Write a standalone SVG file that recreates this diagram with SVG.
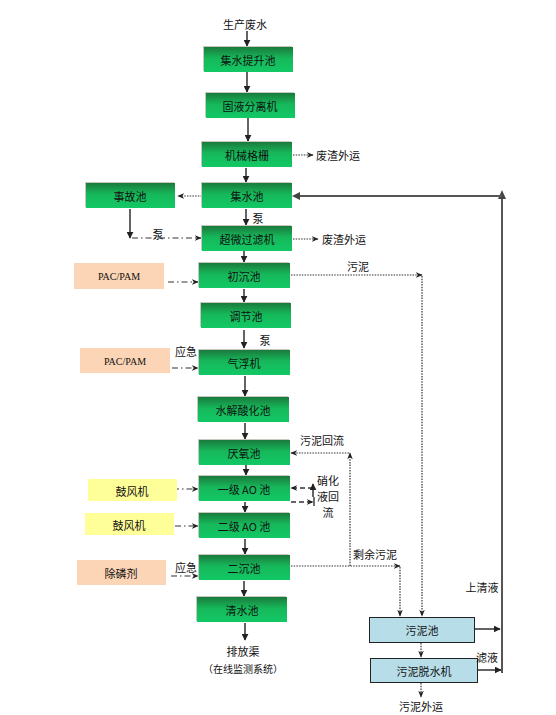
<svg xmlns="http://www.w3.org/2000/svg" width="556" height="715" viewBox="0 0 556 715">
<defs>
<linearGradient id="g" x1="0" y1="0" x2="0" y2="1">
<stop offset="0" stop-color="#1a7a3c"/>
<stop offset="0.45" stop-color="#16b85a"/>
<stop offset="1" stop-color="#12c865"/>
</linearGradient>
<marker id="a" viewBox="0 0 10 10" refX="9" refY="5" markerWidth="7" markerHeight="7" orient="auto" markerUnits="userSpaceOnUse">
<path d="M0,0 L10,5 L0,10 z" fill="#222"/>
</marker>
<marker id="d" viewBox="0 0 10 10" refX="9" refY="5" markerWidth="7" markerHeight="7" orient="auto" markerUnits="userSpaceOnUse">
<path d="M0,1 L10,5 L0,9 L3,5 z" fill="#222"/>
</marker>
</defs>
<style>
text{font-family:"Noto Sans CJK SC","Liberation Sans",sans-serif;font-size:11px;fill:#111;text-anchor:middle;dominant-baseline:central}
.en{font-family:"Liberation Serif",serif;font-size:10px}
.gb rect.s{fill:#c8c8c0}
.gb rect.m{fill:url(#g)}
.pe{fill:#fbd5b5}
.ye{fill:#ffff99}
.bl{fill:#b7dde8;stroke:#222;stroke-width:1}
.sol{stroke:#222;stroke-width:1.4;fill:none;marker-end:url(#a)}
.dot{stroke:#333;stroke-width:1.2;fill:none;stroke-dasharray:1.5 1.2;marker-end:url(#d)}
.dd{stroke:#333;stroke-width:1.2;fill:none;stroke-dasharray:6 3 1.5 3;marker-end:url(#d)}
.da{stroke:#333;stroke-width:1.4;fill:none;stroke-dasharray:5 3;marker-end:url(#d)}
.gr{stroke:#555;stroke-width:2;fill:none}
</style>

<g id="connectors">
<line class="sol" x1="247" y1="31" x2="247" y2="46"/>
<line class="sol" x1="247" y1="72" x2="247" y2="92"/>
<line class="sol" x1="248" y1="118" x2="248" y2="141"/>
<line class="sol" x1="246" y1="168" x2="246" y2="182"/>
<line class="sol" x1="246" y1="209" x2="246" y2="225"/>
<line class="sol" x1="244" y1="251" x2="244" y2="262"/>
<line class="sol" x1="244" y1="289" x2="244" y2="302"/>
<line class="sol" x1="244" y1="330" x2="244" y2="348"/>
<line class="sol" x1="245" y1="376" x2="245" y2="396"/>
<line class="sol" x1="245" y1="423" x2="245" y2="439"/>
<line class="sol" x1="246" y1="465" x2="246" y2="475"/>
<line class="sol" x1="245" y1="502" x2="245" y2="512"/>
<line class="sol" x1="245" y1="539" x2="245" y2="554"/>
<line class="sol" x1="244" y1="581" x2="244" y2="596"/>
<line class="sol" x1="245" y1="623" x2="245" y2="640"/>
<!-- waste outputs -->
<line class="dot" x1="293" y1="155" x2="313" y2="155"/>
<line class="dot" x1="293" y1="239" x2="318" y2="239"/>
<!-- accident pool -->
<line class="dot" x1="202" y1="196" x2="178" y2="196"/>
<line class="sol" x1="130" y1="209" x2="130" y2="238"/>
<line class="dd" x1="132" y1="238" x2="201" y2="238"/>
<!-- chemicals -->
<line class="dd" x1="168" y1="282" x2="198" y2="282"/>
<line class="dd" x1="172" y1="368" x2="198" y2="368"/>
<line class="dd" x1="173" y1="489" x2="198" y2="489"/>
<line class="dd" x1="175" y1="526" x2="198" y2="526"/>
<line class="dd" x1="171" y1="576" x2="198" y2="576"/>
<!-- sludge -->
<polyline class="dot" points="291,275 422,275"/>
<line class="dot" x1="422" y1="276" x2="422" y2="616"/>
<line class="dot" x1="291" y1="566" x2="400" y2="566"/>
<line class="dot" x1="400" y1="567" x2="400" y2="616"/>
<line class="dot" x1="350" y1="566" x2="350" y2="453"/>
<line class="dot" x1="349" y1="453" x2="291" y2="453"/>
<line class="dot" x1="421" y1="643" x2="421" y2="657"/>
<line class="dot" x1="421" y1="683" x2="421" y2="697"/>
<!-- nitrification return -->
<line class="da" x1="313" y1="488" x2="291" y2="488"/>
<line class="sol" x1="313" y1="497" x2="313" y2="484"/>
<line class="da" x1="291" y1="502" x2="313" y2="502"/>
<line stroke="#222" stroke-width="1.3" x1="314" y1="497" x2="314" y2="506"/>
<!-- return water -->
<line class="gr" x1="502" y1="673" x2="502" y2="198"/>
<path d="M502,190 L506,199 L498,199 z" fill="#444"/>
<line class="gr" x1="502" y1="196" x2="298" y2="196"/>
<path d="M292,196 L300,192 L300,200 z" fill="#444"/>
<line class="sol" x1="474" y1="629" x2="500" y2="629"/>
<line class="sol" x1="477" y1="670" x2="501" y2="670"/>
</g>

<g id="n_src"><text x="245" y="24">生产废水</text></g>
<g id="n1" class="gb"><rect class="s" x="203" y="46" width="89" height="25"/><rect class="m" x="204" y="47" width="89" height="25"/><text x="248" y="60">集水提升池</text></g>
<g id="n2" class="gb"><rect class="s" x="205" y="92" width="89" height="25"/><rect class="m" x="206" y="93" width="89" height="25"/><text x="250" y="106">固液分离机</text></g>
<g id="n3" class="gb"><rect class="s" x="201" y="141" width="90" height="25"/><rect class="m" x="202" y="142" width="90" height="25"/><text x="247" y="155">机械格栅</text></g>
<g id="n4" class="gb"><rect class="s" x="201" y="182" width="90" height="25"/><rect class="m" x="202" y="183" width="90" height="25"/><text x="247" y="196">集水池</text></g>
<g id="n5" class="gb"><rect class="s" x="85" y="182" width="89" height="25"/><rect class="m" x="86" y="183" width="89" height="25"/><text x="130" y="196">事故池</text></g>
<g id="n6" class="gb"><rect class="s" x="201" y="225" width="90" height="25"/><rect class="m" x="202" y="226" width="90" height="25"/><text x="247" y="239">超微过滤机</text></g>
<g id="n7" class="gb"><rect class="s" x="198" y="262" width="91" height="25"/><rect class="m" x="199" y="263" width="91" height="25"/><text x="244" y="276">初沉池</text></g>
<g id="n8" class="gb"><rect class="s" x="200" y="302" width="90" height="25"/><rect class="m" x="201" y="303" width="90" height="25"/><text x="246" y="316">调节池</text></g>
<g id="n9" class="gb"><rect class="s" x="198" y="349" width="91" height="25"/><rect class="m" x="199" y="350" width="91" height="25"/><text x="244" y="363">气浮机</text></g>
<g id="n10" class="gb"><rect class="s" x="197" y="396" width="91" height="25"/><rect class="m" x="198" y="397" width="91" height="25"/><text x="243" y="410">水解酸化池</text></g>
<g id="n11" class="gb"><rect class="s" x="198" y="439" width="91" height="25"/><rect class="m" x="199" y="440" width="91" height="25"/><text x="244" y="453">厌氧池</text></g>
<g id="n12" class="gb"><rect class="s" x="198" y="475" width="91" height="25"/><rect class="m" x="199" y="476" width="91" height="25"/><text x="244" y="489">一级 AO 池</text></g>
<g id="n13" class="gb"><rect class="s" x="198" y="512" width="91" height="25"/><rect class="m" x="199" y="513" width="91" height="25"/><text x="244" y="526">二级 AO 池</text></g>
<g id="n14" class="gb"><rect class="s" x="198" y="554" width="91" height="25"/><rect class="m" x="199" y="555" width="91" height="25"/><text x="244" y="568">二沉池</text></g>
<g id="n15" class="gb"><rect class="s" x="196" y="596" width="90" height="25"/><rect class="m" x="197" y="597" width="90" height="25"/><text x="242" y="610">清水池</text></g>
<g id="n_out"><text x="243" y="651">排放渠</text><text x="243" y="668" style="font-size:10px">（在线监测系统）</text></g>

<g id="c1"><rect class="pe" x="74" y="263" width="90" height="26"/><text class="en" x="119" y="276">PAC/PAM</text></g>
<g id="c2"><rect class="pe" x="80" y="348" width="90" height="25"/><text class="en" x="125" y="361">PAC/PAM</text></g>
<g id="b1"><rect class="ye" x="88" y="479" width="89" height="22"/><text x="132" y="491">鼓风机</text></g>
<g id="b2"><rect class="ye" x="85" y="513" width="89" height="22"/><text x="129" y="525">鼓风机</text></g>
<g id="c3"><rect class="pe" x="77" y="560" width="89" height="25"/><text x="121" y="573">除磷剂</text></g>

<g id="s1"><rect class="bl" x="369.5" y="617.5" width="105" height="25"/><text x="422" y="630">污泥池</text></g>
<g id="s2"><rect class="bl" x="370.5" y="658.5" width="107" height="24"/><text x="424" y="671">污泥脱水机</text></g>

<g id="labels">
<text x="338" y="155">废渣外运</text>
<text x="344" y="239">废渣外运</text>
<text x="258" y="218">泵</text>
<text x="158" y="234">泵</text>
<text x="265" y="340">泵</text>
<text x="186" y="351">应急</text>
<text x="186" y="567">应急</text>
<text x="358" y="266">污泥</text>
<text x="322" y="440">污泥回流</text>
<text x="328" y="480">硝化</text>
<text x="328" y="496">液回</text>
<text x="328" y="512">流</text>
<text x="375" y="554">剩余污泥</text>
<text x="482" y="587">上清液</text>
<text x="487" y="657">滤液</text>
<text x="421" y="706">污泥外运</text>
</g>
</svg>
